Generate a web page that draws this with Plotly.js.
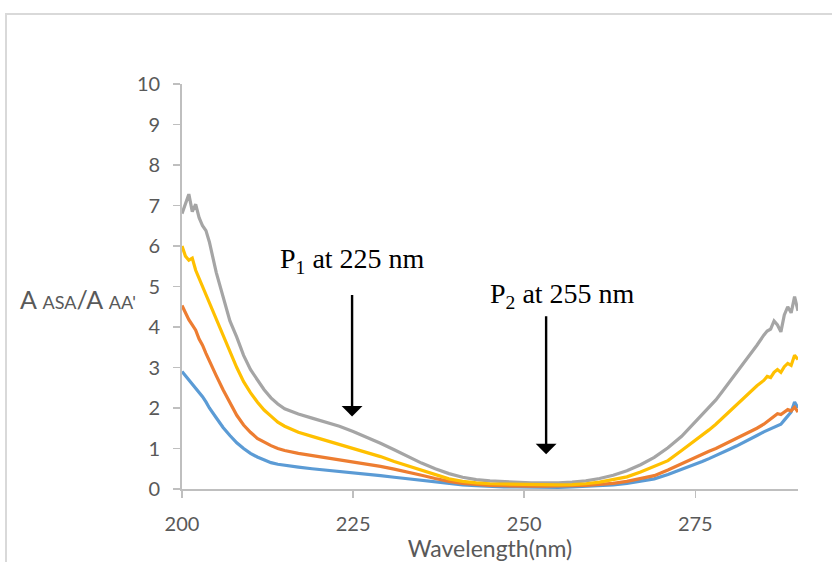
<!DOCTYPE html>
<html>
<head>
<meta charset="utf-8">
<script src="https://cdn.plot.ly/plotly-3.0.1.min.js"></script>
<style>
  html, body { margin: 0; padding: 0; background: #ffffff; overflow: hidden; }
  #wrap { position: relative; width: 832px; height: 562px; }
  #chart { position: absolute; left: 0; top: 0; width: 832px; height: 562px; }
  #frame { position: absolute; left: 5px; top: 13px; width: 900px; height: 700px;
           border-left: 2px solid #d9d9d9; border-top: 2px solid #d9d9d9; pointer-events: none; }
</style>
</head>
<body>
<div id="wrap">
  <div id="chart"></div>
  <div id="frame"></div>
</div>
<script>
// Wavelength grid (nm) shared by all four spectra
const wavelength = [200, 200.5, 201, 201.5, 202, 202.5, 203, 203.5, 204, 205, 206, 207, 208, 209, 210,
  211, 212, 213, 214, 215, 217, 219, 221, 223, 225, 227, 229, 231, 233, 235, 237, 239, 241, 243, 245,
  247, 249, 251, 253, 255, 257, 259, 261, 263, 265, 267, 269, 271, 273, 275, 276, 277, 278, 279, 280,
  281, 282, 283, 284, 285, 285.5, 286, 286.5, 287, 287.5, 288, 288.5, 289, 289.5, 290];

const series1 = [2.9, 2.8, 2.68, 2.6, 2.5, 2.4, 2.28, 2.15, 2.0, 1.76, 1.52, 1.32, 1.14, 1.0, 0.88,
  0.79, 0.71, 0.65, 0.61, 0.58, 0.54, 0.5, 0.47, 0.43, 0.4, 0.36, 0.33, 0.29, 0.25, 0.21, 0.17, 0.13, 0.1, 0.08, 0.06,
  0.05, 0.05, 0.04, 0.04, 0.04, 0.05, 0.06, 0.08, 0.1, 0.14, 0.2, 0.25, 0.36, 0.48, 0.61, 0.68, 0.75, 0.82, 0.9, 0.98,
  1.06, 1.14, 1.23, 1.32, 1.41, 1.45, 1.5, 1.54, 1.56, 1.6, 1.7, 1.8, 1.9, 2.15, 2.0];

const series2 = [4.53, 4.35, 4.18, 4.05, 3.92, 3.7, 3.55, 3.35, 3.15, 2.8, 2.45, 2.12, 1.82, 1.58, 1.4,
  1.25, 1.15, 1.07, 1.0, 0.95, 0.88, 0.83, 0.78, 0.73, 0.67, 0.62, 0.56, 0.49, 0.42, 0.34, 0.26, 0.19, 0.14, 0.11, 0.09,
  0.08, 0.07, 0.07, 0.07, 0.07, 0.08, 0.09, 0.11, 0.14, 0.19, 0.25, 0.33, 0.47, 0.63, 0.78, 0.85, 0.93, 1.0, 1.08, 1.17,
  1.25, 1.33, 1.42, 1.5, 1.6, 1.66, 1.74, 1.8, 1.86, 1.84, 1.9, 1.96, 1.93, 2.02, 1.9];

const series3 = [6.8, 7.05, 7.28, 6.85, 7.03, 6.7, 6.5, 6.38, 6.1, 5.35, 4.75, 4.15, 3.75, 3.3, 2.95,
  2.7, 2.45, 2.25, 2.1, 1.98, 1.85, 1.75, 1.65, 1.55, 1.42, 1.28, 1.13, 0.97, 0.8, 0.64, 0.5, 0.38, 0.29, 0.23, 0.2,
  0.18, 0.16, 0.15, 0.15, 0.15, 0.17, 0.2, 0.26, 0.34, 0.45, 0.6, 0.78, 1.02, 1.3, 1.65, 1.83, 2.02, 2.2, 2.42, 2.64,
  2.87, 3.1, 3.32, 3.55, 3.8, 3.9, 3.95, 4.15, 4.05, 3.88, 4.3, 4.5, 4.35, 4.75, 4.4];

const series4 = [6.0, 5.75, 5.65, 5.7, 5.4, 5.2, 5.0, 4.8, 4.6, 4.2, 3.75, 3.38, 3.0, 2.65, 2.38,
  2.15, 1.95, 1.8, 1.65, 1.55, 1.4, 1.3, 1.2, 1.12, 1.0, 0.9, 0.8, 0.68, 0.57, 0.45, 0.34, 0.25, 0.19, 0.15, 0.13,
  0.12, 0.11, 0.1, 0.1, 0.1, 0.11, 0.13, 0.17, 0.23, 0.3, 0.42, 0.55, 0.7, 0.95, 1.2, 1.33, 1.46, 1.6, 1.76, 1.92,
  2.07, 2.22, 2.38, 2.55, 2.68, 2.78, 2.75, 2.88, 2.95, 2.88, 3.02, 3.1, 3.05, 3.3, 3.2];

const seriesNames = ['Series1', 'Series2', 'Series3', 'Series4'];
const seriesColors = ['#5b9bd5', '#ed7d31', '#a5a5a5', '#ffc000'];
const xTicks = [200, 225, 250, 275];
const yTicks = [0, 1, 2, 3, 4, 5, 6, 7, 8, 9, 10];

// Peak markers: label text, arrow tail and head in data units
const peakLabels = ['P<sub>1</sub> at 225 nm', 'P<sub>2</sub> at 255 nm'];
const peakLabelX = [224.9, 255.6];
const peakLabelY = [5.65, 4.77];
const arrowX = [224.85, 253.2];
const arrowTailY = [4.83, 4.3];
const arrowHeadY = [1.79, 0.86];

const allSeries = [series1, series2, series3, series4];
const traces = allSeries.map((ys, i) => ({
  type: 'scatter',
  mode: 'lines',
  name: seriesNames[i],
  x: wavelength,
  y: ys,
  line: { color: seriesColors[i], width: 3.2 },
  hoverinfo: 'x+y'
}));

const axisGray = '#bfbfbf';
const labelGray = '#595959';
const sansFont = 'Lato, "Open Sans", sans-serif';

const annotations = [];
peakLabels.forEach((t, i) => {
  annotations.push({
    x: peakLabelX[i], y: peakLabelY[i], xref: 'x', yref: 'y',
    text: t, showarrow: false,
    font: { family: '"Liberation Serif", "Times New Roman", serif', size: 28, color: '#000000' }
  });
  annotations.push({
    x: arrowX[i], y: arrowHeadY[i], ax: arrowX[i], ay: arrowTailY[i],
    xref: 'x', yref: 'y', axref: 'x', ayref: 'y',
    text: '', showarrow: true,
    arrowhead: 1, arrowsize: 1.45, arrowwidth: 2.4, arrowcolor: '#000000',
    standoff: 0, startstandoff: 0
  });
});
// Y-axis caption, written horizontally to the left of the tick labels
annotations.push({
  x: -0.266, y: 0.469, xref: 'paper', yref: 'paper', xanchor: 'left', yanchor: 'middle',
  text: 'A <span style="font-size:18px">ASA</span>/A <span style="font-size:18px">AA\'</span>',
  showarrow: false,
  font: { family: sansFont, size: 25, color: labelGray }
});

const layout = {
  width: 832, height: 562,
  margin: { l: 182, r: 34, t: 84, b: 73 },
  paper_bgcolor: 'rgba(0,0,0,0)',
  plot_bgcolor: 'rgba(0,0,0,0)',
  showlegend: false,
  xaxis: {
    range: [200, 290], tickvals: xTicks, ticktext: xTicks.map(String),
    ticks: 'outside', ticklen: 7, tickwidth: 1.5, tickcolor: axisGray,
    showline: true, linecolor: axisGray, linewidth: 1.8,
    showgrid: false, zeroline: false, ticklabelstandoff: 9,
    tickfont: { family: sansFont, size: 20, color: labelGray },
    title: { text: 'Wavelength(nm)', font: { family: sansFont, size: 23, color: labelGray }, standoff: 6 }
  },
  xaxis2: {
    overlaying: 'x', anchor: 'y', side: 'bottom',
    range: [200, 290], tickvals: xTicks,
    ticks: 'inside', ticklen: 7, tickwidth: 1.5, tickcolor: axisGray,
    showticklabels: false, showline: false, showgrid: false, zeroline: false
  },
  yaxis: {
    range: [0, 10], tickvals: yTicks, ticktext: yTicks.map(String),
    ticks: 'outside', ticklen: 7, tickwidth: 1.5, tickcolor: axisGray,
    showline: true, linecolor: axisGray, linewidth: 1.8,
    showgrid: false, zeroline: false, ticklabelstandoff: 9,
    tickfont: { family: sansFont, size: 20, color: labelGray }
  },
  yaxis2: {
    overlaying: 'y', anchor: 'x', side: 'left',
    range: [0, 10], tickvals: yTicks,
    ticks: 'inside', ticklen: 7, tickwidth: 1.5, tickcolor: axisGray,
    showticklabels: false, showline: false, showgrid: false, zeroline: false
  },
  annotations: annotations
};

Plotly.newPlot('chart', traces, layout, { displayModeBar: false, staticPlot: true });
</script>
</body>
</html>
